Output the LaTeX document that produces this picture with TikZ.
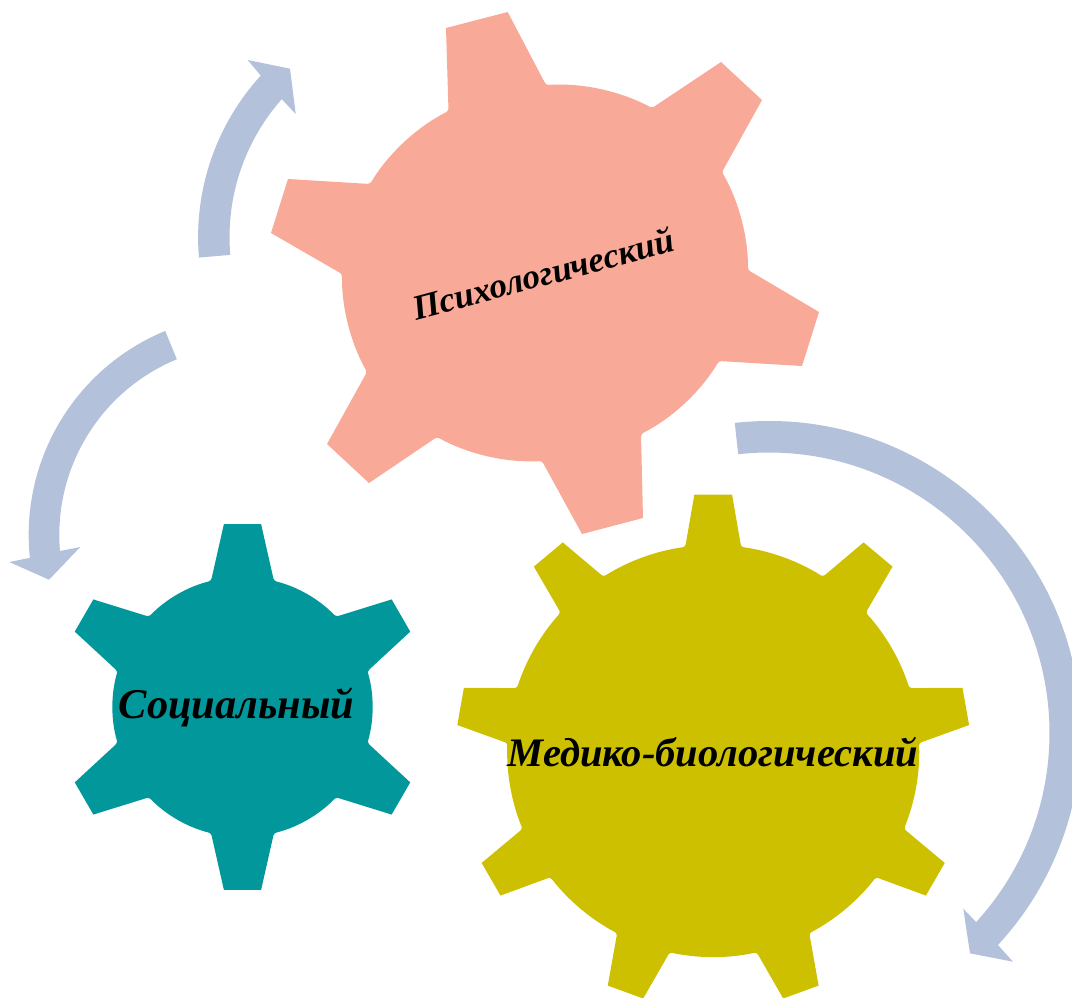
\documentclass[tikz,border=0pt]{standalone}
\usepackage{fontspec}
\setmainfont{Liberation Serif}
\definecolor{arrowblue}{HTML}{B3C1DB}
\definecolor{salmon}{HTML}{F9A997}
\definecolor{tealgear}{HTML}{01979B}
\definecolor{olivegear}{HTML}{CCC000}
\tikzset{
  gearlabel/.style={font=\bfseries\itshape, text=black, inner sep=0pt, anchor=base},
  arcarrow/.style={fill=arrowblue, draw=none},
  fillet/.style={rounded corners=2.5pt}
}
% #1 tooth angles, #2 first tooth angle, #3 tip radius, #4 tip half-angle, #5 body radius, #6 base half-angle, #7 step
\newcommand{\gearpath}[7]{%
  (#2+#4:#3) \foreach \a in {#1} {
    -- (\a-#4:#3) [fillet] -- (\a-#6:#5)
    arc[start angle=\a-#6, end angle=\a-#7+#6, radius=#5pt] [sharp corners]
    -- (\a-#7+#4:#3)
  } -- cycle}
\begin{document}
\begin{tikzpicture}[x=1pt,y=1pt]
\useasboundingbox[fill=white] (0,-997) rectangle (1072,0);
\clip (0,-997) rectangle (1072,0);
% arrows
\begin{scope}[shift={(437.7,-237.1)}]
\fill[arcarrow] (184.9:239.6) arc[start angle=184.9, end angle=137.6, radius=239.6pt]
  -- (247.7-437.7,-60+237.1) -- (290-437.7,-68.7+237.1) -- (295.7-437.7,-114+237.1)
  -- (138.5:208.2) arc[start angle=138.5, end angle=184.9, radius=208.2pt] -- cycle;
\end{scope}
\begin{scope}[shift={(249.2,-534.8)}]
\fill[arcarrow] (112.4:220.5) arc[start angle=112.4, end angle=186, radius=220.5pt]
  -- (9.3-249.2,-562+534.8) -- (49-249.2,-579.7+534.8) -- (80.3-249.2,-547+534.8)
  -- (184.9:189.9) arc[start angle=184.9, end angle=112.4, radius=189.9pt] -- cycle;
\end{scope}
\begin{scope}[shift={(769,-733)}]
\fill[arcarrow] (96.3:312) arc[start angle=96.3, end angle=-42.8, radius=312pt]
  -- (1013-769,-961.7+733) -- (970-769,-953.3+733) -- (963.3-769,-908.7+733)
  -- (-42.4:280.5) arc[start angle=-42.4, end angle=96.3, radius=280.5pt] -- cycle;
\end{scope}
% psychological gear
\fill[salmon] (507.7,-12) [fillet] -- (546,-85) to[bend left=16,looseness=.85] (652,-108) [sharp corners]
  -- (721,-62) -- (762,-100) [fillet] -- (722,-172)
  to[bend left=15,looseness=.85] (748,-270) [sharp corners]
  -- (819,-312) -- (802,-366) [fillet] -- (719,-361)
  to[bend left=16,looseness=.85] (641,-434) [sharp corners]
  -- (643,-518) -- (582,-534) [fillet] -- (542,-461)
  to[bend left=16,looseness=.85] (437,-437) [sharp corners]
  -- (369,-483) -- (327,-444) [fillet] -- (367,-372)
  to[bend left=15,looseness=.85] (342,-274) [sharp corners]
  -- (271,-233) -- (288,-179) [fillet] -- (370,-184)
  to[bend left=16,looseness=.85] (448.5,-111) [sharp corners]
  -- (446,-28) -- cycle;
% social gear
\begin{scope}[shift={(242.5,-707)}]
\fill[tealgear] \gearpath{90,30,-30,-90,-150,-210}{90}{183.9}{5.8}{130}{14}{60};
\end{scope}
% medical gear
\begin{scope}[shift={(713.2,-751)}]
\fill[olivegear] \gearpath{90,50,10,-30,-70,-110,-150,-190,-230}{90}{257.2}{4.2}{206}{7.8}{40};
\end{scope}
% labels
\node[gearlabel, font=\fontsize{42.4}{42.4}\selectfont\bfseries\itshape] (social) at (236.5,-718) {Социальный};
\node[gearlabel, font=\fontsize{40.5}{40.5}\selectfont\bfseries\itshape] (medical) at (713,-766) {Медико-биологический};
\node[gearlabel, font=\fontsize{35}{35}\selectfont\bfseries\itshape, rotate=15] (psych) at (546,-285.5) {Психологический};
\end{tikzpicture}
\end{document}
